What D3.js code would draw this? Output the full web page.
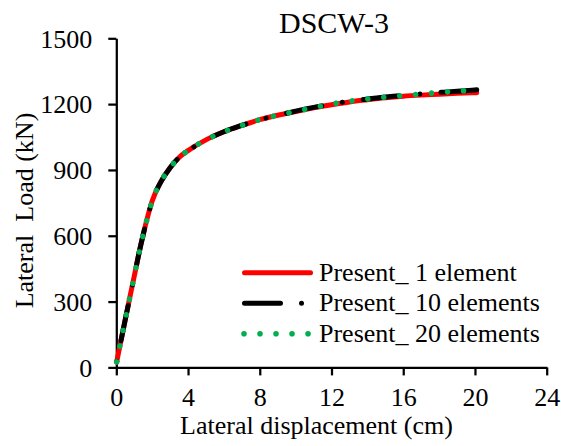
<!DOCTYPE html>
<html>
<head>
<meta charset="utf-8">
<script src="https://cdn.jsdelivr.net/npm/d3@7"></script>
<style>
  html, body { margin: 0; padding: 0; background: #fff; }
  svg text { font-family: "Liberation Serif", "Times New Roman", Times, serif; fill: #000; }
</style>
</head>
<body>
<svg id="chart" width="561" height="446"></svg>
<script>
// Lateral load vs. lateral displacement, wall specimen DSCW-3
const chartTitle = "DSCW-3";
const xTicks = [0, 4, 8, 12, 16, 20, 24];
const yTicks = [0, 300, 600, 900, 1200, 1500];

const seriesNames = ["Present_ 1 element", "Present_ 10 elements", "Present_ 20 elements"];

// displacement (cm)
const disp1 = [0.02, 0.25, 0.5, 0.75, 1.0, 1.25, 1.5, 1.75, 2.0, 2.5, 3.0, 3.5, 4.0, 5.0, 6.0, 7.0, 8.0, 9.0, 10, 11, 12, 13, 14, 15, 16, 17, 18, 19, 20.1];
const disp10 = [0.02, 0.25, 0.5, 0.75, 1.0, 1.25, 1.5, 1.75, 2.0, 2.5, 3.0, 3.5, 4.0, 5.0, 6.0, 7.0, 8.0, 9.0, 10, 11, 12, 13, 14, 15, 16, 17, 18, 19, 20.1];
const disp20 = [0.02, 0.25, 0.5, 0.75, 1.0, 1.25, 1.5, 1.75, 2.0, 2.5, 3.0, 3.5, 4.0, 5.0, 6.0, 7.0, 8.0, 9.0, 10, 11, 12, 13, 14, 15, 16, 17, 18, 19, 20.1];

// lateral load (kN)
const load1 = [25, 118, 218, 317, 415, 515, 605, 687, 758, 848, 910, 957, 988, 1037, 1074, 1103, 1129, 1149, 1166, 1183, 1197, 1210, 1220, 1229, 1236, 1241, 1245, 1249, 1252];
const load10 = [25, 118, 218, 317, 415, 515, 605, 687, 758, 848, 910, 957, 988, 1037, 1074, 1103, 1129, 1149, 1168, 1185, 1200, 1213, 1223, 1232, 1240, 1247, 1253, 1259, 1265];
const load20 = [25, 118, 218, 317, 415, 515, 605, 687, 758, 848, 910, 957, 988, 1037, 1074, 1103, 1129, 1149, 1167, 1184, 1200, 1213, 1223, 1232, 1239, 1246, 1253, 1259, 1264];

const serif = '"Liberation Serif", "Times New Roman", Times, serif';
const svg = d3.select("#chart");
const x = d3.scaleLinear().domain([0, 24]).range([116.3, 546.7]);
const y = d3.scaleLinear().domain([0, 1500]).range([367.4, 38.3]);

// axes
const axisStroke = 2.25;
const gx = svg.append("g").attr("transform", `translate(0,${y(0)})`)
  .call(d3.axisBottom(x).tickValues(xTicks).tickSize(8).tickSizeOuter(0).tickFormat(d3.format("d")));
const gy = svg.append("g").attr("transform", `translate(${x(0)},0)`)
  .call(d3.axisLeft(y).tickValues(yTicks).tickSize(8).tickSizeOuter(0).tickPadding(16).tickFormat(d3.format("d")));

[gx, gy].forEach(g => {
  g.attr("font-family", serif).attr("font-size", 26);
  g.selectAll(".domain").attr("stroke", "#000").attr("stroke-width", axisStroke);
  g.selectAll(".tick line").attr("stroke", "#000").attr("stroke-width", axisStroke);
  g.selectAll(".tick text").attr("fill", "#000");
});
gx.selectAll(".tick text").attr("dy", null).attr("y", 39);
gy.selectAll(".tick text").attr("dy", "0.34em");

// title and axis titles
svg.append("text").attr("x", 334).attr("y", 33).attr("text-anchor", "middle")
  .attr("font-family", serif).attr("font-size", 30).text(chartTitle);
svg.append("text").attr("x", 316.5).attr("y", 434).attr("text-anchor", "middle")
  .attr("font-family", serif).attr("font-size", 26).text("Lateral displacement (cm)");
svg.append("text").attr("transform", "translate(33,210.5) rotate(-90)").attr("text-anchor", "middle")
  .attr("font-family", serif).attr("font-size", 26).style("white-space", "pre").text("Lateral  Load (kN)");

// curves
const line = d3.line().x(d => x(d[0])).y(d => y(d[1])).curve(d3.curveMonotoneX);
const styles = [
  { color: "#ff0000", width: 5, dash: null },
  { color: "#000000", width: 5, dash: "36,21,0.01,21" },
  { color: "#00b050", width: 5.6, dash: "0.01,16" }
];
const series = [
  d3.zip(disp1, load1),
  d3.zip(disp10, load10),
  d3.zip(disp20, load20)
];
series.forEach((pts, i) => {
  const p = svg.append("path").datum(pts).attr("d", line)
    .attr("fill", "none").attr("stroke", styles[i].color)
    .attr("stroke-width", styles[i].width)
    .attr("stroke-linecap", "round").attr("stroke-linejoin", "round")
    .attr("stroke-dasharray", styles[i].dash);
  if (i === 1) {
    // finish the dash-dot line on a full dash
    const L = p.node().getTotalLength();
    const period = 78.01;
    const off = (((36 - L) % period) + period) % period;
    p.attr("stroke-dashoffset", off);
  }
});

// legend
const legendBaselines = [280.5, 311, 341.5];
seriesNames.forEach((name, i) => {
  const ly = legendBaselines[i] - 7.7;
  const x0 = i === 2 ? 244 : 244.5;
  const x1 = i === 2 ? 310 : 310.5;
  svg.append("line").attr("x1", x0).attr("x2", x1).attr("y1", ly).attr("y2", ly)
    .attr("stroke", styles[i].color).attr("stroke-width", styles[i].width)
    .attr("stroke-linecap", "round").attr("stroke-dasharray", styles[i].dash);
  svg.append("text").attr("x", 319).attr("y", legendBaselines[i])
    .attr("font-family", serif).attr("font-size", 26).style("white-space", "pre").text(name);
});
</script>
</body>
</html>
